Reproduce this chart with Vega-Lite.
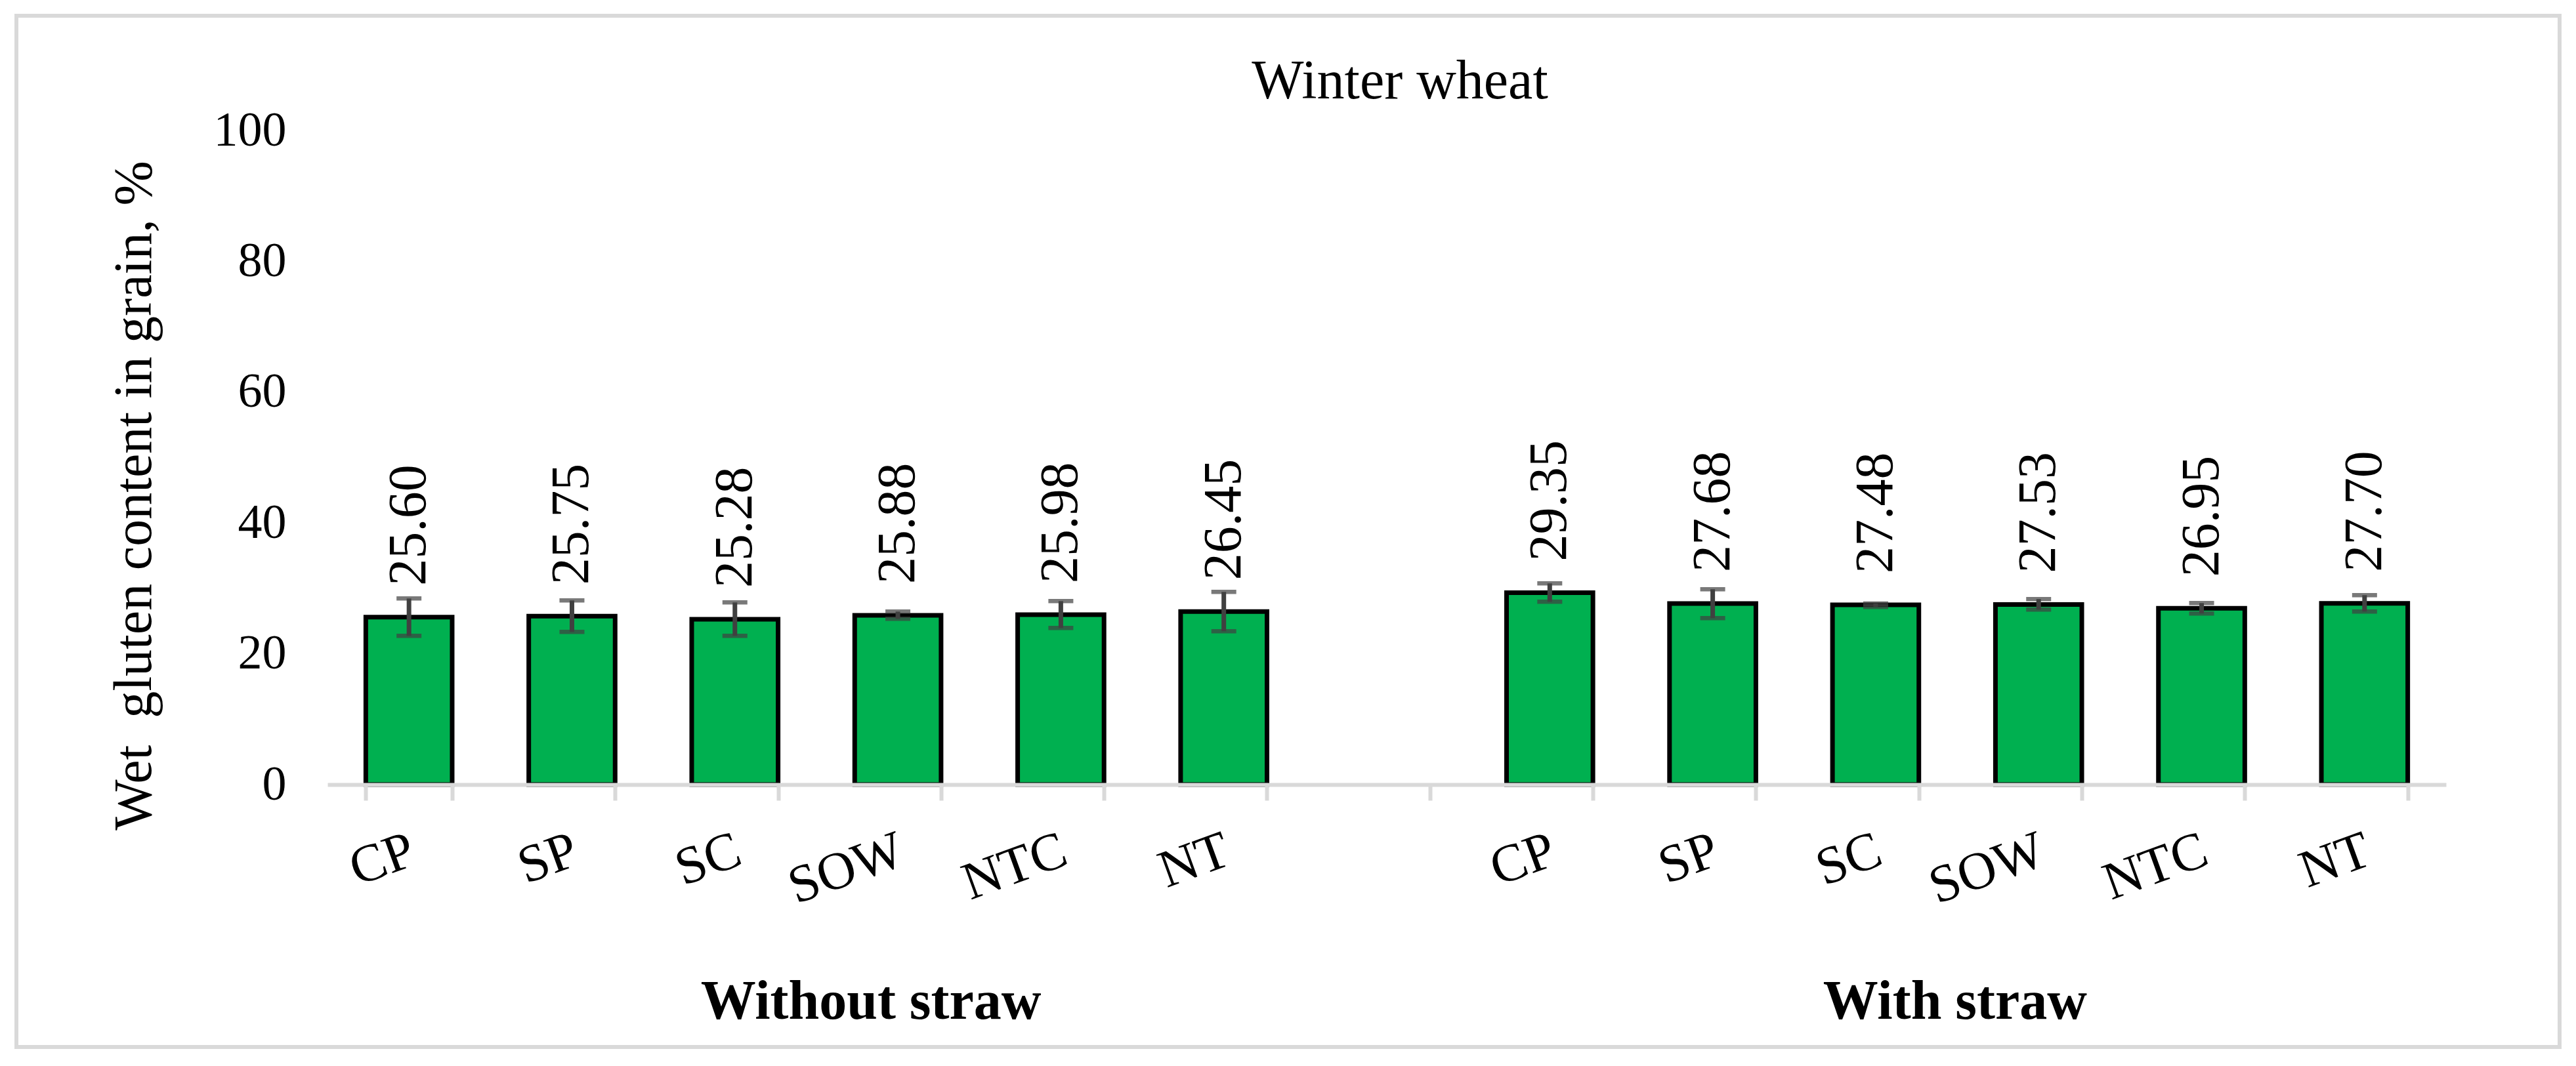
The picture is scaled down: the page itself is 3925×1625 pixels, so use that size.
{
  "$schema": "https://vega.github.io/schema/vega-lite/v6.json",
  "width": 3875,
  "height": 1572,
  "autosize": {"type": "none"},
  "padding": {"left": 25, "top": 24, "right": 25, "bottom": 29},
  "background": "white",
  "data": {
    "values": [
      {"straw": "Without straw", "tillage": "CP", "key": "w_CP", "mean": 25.60, "lo": 22.74, "hi": 28.45},
      {"straw": "Without straw", "tillage": "SP", "key": "w_SP", "mean": 25.75, "lo": 23.34, "hi": 28.15},
      {"straw": "Without straw", "tillage": "SC", "key": "w_SC", "mean": 25.28, "lo": 22.74, "hi": 27.85},
      {"straw": "Without straw", "tillage": "SOW", "key": "w_SOW", "mean": 25.88, "lo": 25.35, "hi": 26.45},
      {"straw": "Without straw", "tillage": "NTC", "key": "w_NTC", "mean": 25.98, "lo": 23.94, "hi": 28.05},
      {"straw": "Without straw", "tillage": "NT", "key": "w_NT", "mean": 26.45, "lo": 23.44, "hi": 29.46},
      {"straw": "With straw", "tillage": "CP", "key": "s_CP", "mean": 29.35, "lo": 27.95, "hi": 30.76},
      {"straw": "With straw", "tillage": "SP", "key": "s_SP", "mean": 27.68, "lo": 25.45, "hi": 29.86},
      {"straw": "With straw", "tillage": "SC", "key": "s_SC", "mean": 27.48, "lo": 27.15, "hi": 27.68},
      {"straw": "With straw", "tillage": "SOW", "key": "s_SOW", "mean": 27.53, "lo": 26.75, "hi": 28.36},
      {"straw": "With straw", "tillage": "NTC", "key": "s_NTC", "mean": 26.95, "lo": 26.15, "hi": 27.75},
      {"straw": "With straw", "tillage": "NT", "key": "s_NT", "mean": 27.70, "lo": 26.45, "hi": 28.96}
    ]
  },
  "encoding": {
    "x": {
      "field": "key",
      "type": "nominal",
      "scale": {
        "domain": ["w_CP", "w_SP", "w_SC", "w_SOW", "w_NTC", "w_NT", "gap", "s_CP", "s_SP", "s_SC", "s_SOW", "s_NTC", "s_NT"],
        "range": [474, 3702],
        "paddingInner": 0.47,
        "paddingOuter": 0.235
      },
      "axis": {
        "title": null,
        "labelExpr": "datum.value == 'gap' ? '' : split(datum.value, '_')[1]",
        "labelAngle": -20,
        "labelAlign": "right",
        "labelBaseline": "top",
        "labelPadding": 36,
        "labelOffset": -8,
        "labelFont": "Liberation Serif",
        "labelFontSize": 81,
        "labelColor": "black",
        "tickBand": "extent",
        "tickSize": 24,
        "tickWidth": 6,
        "tickColor": "#D9D9D9",
        "domainColor": "#D9D9D9",
        "domainWidth": 6,
        "grid": false,
        "offset": -400,
        "zindex": 1
      }
    }
  },
  "layer": [
    {
      "mark": {"type": "bar", "fill": "#00B050", "stroke": "black", "strokeWidth": 7},
      "encoding": {
        "y": {
          "field": "mean",
          "type": "quantitative",
          "scale": {"domain": [0, 100], "range": [1172, 175], "nice": false},
          "axis": {
            "title": "Wet\u00a0 gluten content in grain, %",
            "values": [0, 20, 40, 60, 80, 100],
            "grid": false,
            "domain": false,
            "ticks": false,
            "tickSize": 0,
            "labelPadding": 63,
            "labelFont": "Liberation Serif",
            "labelFontSize": 74,
            "labelColor": "black",
            "labelBaseline": "middle",
            "offset": -474,
            "titleFont": "Liberation Serif",
            "titleFontSize": 82,
            "titleFontWeight": "normal",
            "titleColor": "black",
            "titleAngle": 270,
            "titleAlign": "center",
            "titleBaseline": "middle",
            "titleX": -295,
            "titleY": 731
          }
        }
      }
    },
    {
      "mark": {"type": "rule", "color": "#404040", "strokeWidth": 7},
      "encoding": {
        "y": {"field": "lo", "type": "quantitative"},
        "y2": {"field": "hi"}
      }
    },
    {
      "mark": {"type": "tick", "color": "#404040", "thickness": 6.5, "size": 38, "orient": "horizontal"},
      "encoding": {"y": {"field": "lo", "type": "quantitative"}}
    },
    {
      "mark": {"type": "tick", "color": "#404040", "thickness": 6.5, "size": 38, "orient": "horizontal"},
      "encoding": {"y": {"field": "hi", "type": "quantitative"}}
    },
    {
      "mark": {"type": "text", "angle": 270, "align": "left", "baseline": "middle", "dx": 48, "font": "Liberation Serif", "fontSize": 82, "color": "black"},
      "encoding": {
        "y": {"field": "mean", "type": "quantitative"},
        "text": {"field": "mean", "type": "quantitative", "format": ".2f"}
      }
    },
    {
      "data": {"values": [{"label": "Winter wheat", "key": "gap"}]},
      "mark": {"type": "text", "dx": 20, "dy": -49, "baseline": "alphabetic", "font": "Liberation Serif", "fontSize": 84, "color": "black"},
      "encoding": {
        "y": {"datum": 100, "type": "quantitative"},
        "text": {"field": "label"}
      }
    },
    {
      "data": {"values": [{"group": "Without straw", "key": "w_SOW"}]},
      "mark": {"type": "text", "dx": -41, "dy": 357, "baseline": "alphabetic", "font": "Liberation Serif", "fontSize": 84, "fontWeight": "bold", "color": "black"},
      "encoding": {
        "y": {"datum": 0, "type": "quantitative"},
        "text": {"field": "group"}
      }
    },
    {
      "data": {"values": [{"group": "With straw", "key": "s_SC"}]},
      "mark": {"type": "text", "dx": 121, "dy": 357, "baseline": "alphabetic", "font": "Liberation Serif", "fontSize": 84, "fontWeight": "bold", "color": "black"},
      "encoding": {
        "y": {"datum": 0, "type": "quantitative"},
        "text": {"field": "group"}
      }
    }
  ],
  "config": {
    "view": {"stroke": "#D9D9D9", "strokeWidth": 6},
    "font": "Liberation Serif"
  }
}
